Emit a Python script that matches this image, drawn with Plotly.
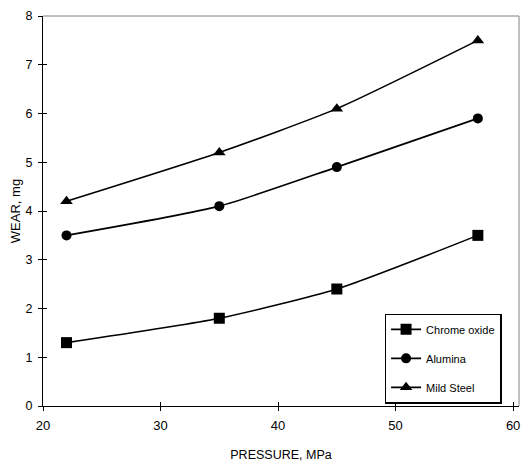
import plotly.graph_objects as go

pressure = [22, 35, 45, 57]
chrome_oxide = [1.3, 1.8, 2.4, 3.5]
alumina = [3.5, 4.1, 4.9, 5.9]
mild_steel = [4.2, 5.2, 6.1, 7.5]

series = [
    ("Chrome oxide", chrome_oxide, "square", 11),
    ("Alumina", alumina, "circle", 10),
    ("Mild Steel", mild_steel, "triangle-up", 11),
]

FONT = "Liberation Sans, Arial, sans-serif"

fig = go.Figure()
for i, (name, vals, sym, size) in enumerate(series):
    fig.add_trace(go.Scatter(
        x=pressure, y=vals, name=name, mode="lines+markers",
        line=dict(color="black", width=1.6, shape="spline", smoothing=0.6),
        marker=dict(symbol=sym, size=size, color="black"),
        legendgroup=f"g{i}",
    ))

# dummy trace on overlay axes for inside ticks
fig.add_trace(go.Scatter(x=[20], y=[0], xaxis="x2", yaxis="y2",
                         mode="markers", marker=dict(opacity=0),
                         showlegend=False, hoverinfo="skip"))

fig.update_layout(
    width=522, height=461,
    margin=dict(l=35, r=11, t=8, b=63, autoexpand=False),
    paper_bgcolor="white", plot_bgcolor="white",
    font=dict(family=FONT, color="black", size=13),
    xaxis=dict(range=[20, 60.5], tickvals=[20, 30, 40, 50, 60],
               showgrid=False, zeroline=False, showline=True, automargin=False,
               linecolor="black", linewidth=1.2,
               ticks="outside", ticklen=4, tickcolor="black",
               ticklabelstandoff=3, ticklabeloverflow="allow",
               tickfont=dict(size=13, family=FONT),
               title=dict(text="PRESSURE, MPa", font=dict(size=12.5, family=FONT), standoff=18)),
    yaxis=dict(range=[0, 8], dtick=1,
               showgrid=False, zeroline=False, showline=True, automargin=False,
               linecolor="black", linewidth=1.2,
               ticks="outside", ticklen=4, tickcolor="black",
               ticklabelstandoff=3, ticklabeloverflow="allow",
               tickfont=dict(size=12.5, family=FONT),
               title=dict(text="WEAR, mg", font=dict(size=13, family=FONT), standoff=4)),
    xaxis2=dict(range=[20, 60.5], tickvals=[20, 30, 40, 50, 60], overlaying="x",
                showgrid=False, zeroline=False, showline=False, automargin=False,
                ticks="inside", ticklen=4, tickcolor="black", showticklabels=False),
    yaxis2=dict(range=[0, 8], dtick=1, overlaying="y", automargin=False,
                showgrid=False, zeroline=False, showline=False,
                ticks="inside", ticklen=4, tickcolor="black", showticklabels=False),
    legend=dict(x=0.718, y=0.237, xanchor="left", yanchor="top",
                bordercolor="black", borderwidth=1.3, bgcolor="white",
                font=dict(size=11, family=FONT), tracegroupgap=10,
                itemwidth=30, entrywidth=108),
    shapes=[
        dict(type="line", xref="paper", yref="paper", x0=0, x1=1, y0=1, y1=1,
             line=dict(color="#808080", width=1)),
        dict(type="line", xref="paper", yref="paper", x0=1, x1=1, y0=0, y1=1,
             line=dict(color="#808080", width=1)),
    ],
)

fig.write_html("out.html")
